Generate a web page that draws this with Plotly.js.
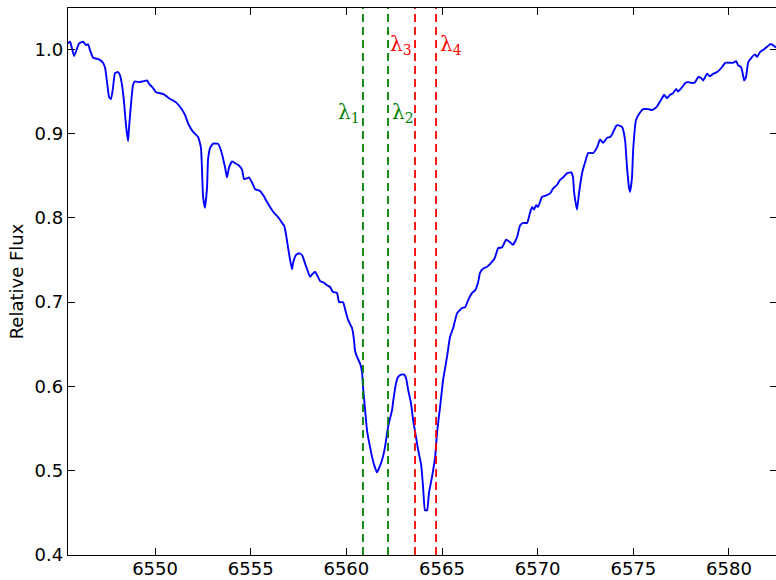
<!DOCTYPE html>
<html><head><meta charset="utf-8">
<script src="https://cdn.plot.ly/plotly-3.0.1.min.js"></script>
<style>html,body{margin:0;padding:0;overflow:hidden;background:#fff}#chart{width:777px;height:580px}</style>
</head><body><div id="chart"></div>
<script>
const wavelength = [6545.45,6545.56,6545.77,6546.03,6546.24,6546.39,6546.50,6546.60,6546.76,6547.07,
6547.28,6547.39,6547.49,6547.60,6547.70,6547.80,6547.91,6548.07,6548.17,6548.27,
6548.38,6548.48,6548.59,6548.64,6548.75,6548.85,6548.95,6549.16,6549.37,6549.58,
6549.69,6549.90,6550.05,6550.42,6550.73,6551.10,6551.36,6551.57,6551.73,6551.99,
6552.25,6552.40,6552.51,6552.61,6552.72,6552.77,6552.88,6553.03,6553.29,6553.45,
6553.55,6553.66,6553.76,6553.87,6554.03,6554.18,6554.34,6554.55,6554.65,6554.81,
6554.91,6555.07,6555.23,6555.49,6555.65,6555.85,6556.01,6556.22,6556.43,6556.64,
6556.74,6556.85,6556.95,6557.06,6557.16,6557.21,6557.37,6557.53,6557.68,6557.84,
6557.95,6558.10,6558.21,6558.36,6558.47,6558.63,6558.83,6558.99,6559.15,6559.30,
6559.51,6559.62,6559.83,6559.93,6560.09,6560.30,6560.40,6560.45,6560.56,6560.72,
6560.82,6560.87,6560.98,6561.08,6561.24,6561.40,6561.60,6561.71,6561.87,6562.02,
6562.18,6562.39,6562.44,6562.60,6562.70,6562.86,6563.02,6563.12,6563.23,6563.38,
6563.49,6563.64,6563.75,6563.91,6564.01,6564.11,6564.22,6564.32,6564.48,6564.64,
6564.74,6564.90,6565.06,6565.26,6565.42,6565.58,6565.79,6566.05,6566.21,6566.36,
6566.57,6566.73,6566.89,6566.99,6567.15,6567.36,6567.62,6567.77,6567.93,6568.14,
6568.35,6568.56,6568.71,6568.92,6569.08,6569.24,6569.45,6569.60,6569.71,6569.81,
6569.92,6570.02,6570.23,6570.39,6570.65,6570.81,6571.01,6571.17,6571.33,6571.54,
6571.75,6571.85,6571.90,6572.01,6572.06,6572.16,6572.32,6572.48,6572.64,6572.90,
6573.11,6573.26,6573.42,6573.63,6573.79,6573.89,6574.10,6574.20,6574.41,6574.57,
6574.67,6574.78,6574.83,6574.93,6574.99,6575.14,6575.35,6575.51,6575.77,6575.98,
6576.14,6576.29,6576.50,6576.61,6576.76,6576.92,6577.08,6577.24,6577.34,6577.55,
6577.71,6577.86,6578.07,6578.23,6578.39,6578.54,6578.65,6578.86,6579.01,6579.17,
6579.38,6579.64,6579.80,6580.06,6580.21,6580.37,6580.48,6580.63,6580.74,6580.79,
6580.89,6581.00,6581.21,6581.36,6581.47,6581.63,6581.84,6581.99,6582.15,6582.31,
6582.46];
const flux = [1.007,1.009,0.992,1.007,1.009,1.005,1.006,0.999,0.990,0.988,
0.984,0.978,0.961,0.943,0.941,0.954,0.972,0.973,0.969,0.958,
0.937,0.910,0.891,0.907,0.937,0.958,0.962,0.961,0.962,0.963,
0.959,0.954,0.949,0.947,0.942,0.937,0.930,0.922,0.912,0.902,
0.896,0.883,0.825,0.812,0.837,0.869,0.883,0.888,0.888,0.880,
0.871,0.860,0.848,0.860,0.867,0.865,0.863,0.857,0.846,0.847,
0.848,0.842,0.834,0.832,0.827,0.819,0.813,0.806,0.801,0.794,
0.791,0.780,0.765,0.750,0.739,0.746,0.756,0.758,0.756,0.746,
0.739,0.730,0.733,0.736,0.732,0.725,0.723,0.720,0.718,0.712,
0.711,0.700,0.700,0.692,0.679,0.669,0.655,0.643,0.635,0.627,
0.617,0.600,0.572,0.548,0.528,0.511,0.498,0.503,0.513,0.528,
0.552,0.572,0.581,0.604,0.611,0.614,0.614,0.610,0.596,0.580,
0.560,0.540,0.525,0.507,0.481,0.453,0.453,0.474,0.493,0.516,
0.545,0.576,0.608,0.635,0.659,0.669,0.687,0.693,0.694,0.702,
0.711,0.714,0.724,0.735,0.740,0.742,0.748,0.753,0.764,0.765,
0.774,0.771,0.768,0.777,0.791,0.794,0.794,0.806,0.813,0.810,
0.815,0.813,0.825,0.826,0.829,0.835,0.839,0.845,0.848,0.853,
0.854,0.848,0.831,0.815,0.810,0.829,0.853,0.866,0.877,0.877,
0.884,0.893,0.889,0.895,0.896,0.899,0.909,0.910,0.908,0.892,
0.860,0.835,0.831,0.848,0.880,0.916,0.925,0.929,0.929,0.928,
0.930,0.934,0.942,0.946,0.942,0.946,0.948,0.953,0.950,0.955,
0.960,0.961,0.960,0.961,0.967,0.966,0.963,0.971,0.968,0.971,
0.973,0.979,0.984,0.984,0.984,0.986,0.981,0.979,0.969,0.963,
0.967,0.984,0.991,0.994,0.991,0.997,1.000,1.003,1.006,1.005,
1.002];
const lineWavelengths = [6560.87, 6562.18, 6563.59, 6564.69];
const lineLabels = ['λ<sub>1</sub>', 'λ<sub>2</sub>', 'λ<sub>3</sub>', 'λ<sub>4</sub>'];
const lineColors = ['#008000', '#008000', '#ff0000', '#ff0000'];
const xTickValues = [6550, 6555, 6560, 6565, 6570, 6575, 6580];
const yTickValues = [0.4, 0.5, 0.6, 0.7, 0.8, 0.9, 1.0];

const labelFlux = [0.924, 0.924, 1.005, 1.005];
const labelSide = ['right', 'left', 'right', 'left'];

const shapes = lineWavelengths.map((w, i) => ({
  type: 'line', xref: 'x', yref: 'paper', x0: w, x1: w, y0: 0, y1: 1,
  line: {color: lineColors[i], width: 1.8, dash: '8px,5px'}
}));
const annotations = lineWavelengths.map((w, i) => ({
  x: w, y: labelFlux[i], xref: 'x', yref: 'y', text: lineLabels[i],
  showarrow: false, xanchor: labelSide[i], yanchor: 'middle',
  xshift: labelSide[i] === 'right' ? -1 : 2,
  font: {family: 'DejaVu Serif', size: 20, color: lineColors[i]}
}));

const trace = {
  x: wavelength, y: flux, type: 'scatter', mode: 'lines',
  line: {color: '#0000ff', width: 1.9, shape: 'spline', smoothing: 0.4}, hoverinfo: 'skip'
};

const layout = {
  width: 777, height: 580,
  margin: {l: 68, r: 0, t: 8, b: 25, pad: 0},
  paper_bgcolor: '#ffffff', plot_bgcolor: '#ffffff',
  showlegend: false,
  font: {family: 'DejaVu Sans', size: 18, color: '#000000'},
  xaxis: {
    range: [6545.45, 6582.51], tickvals: xTickValues, ticktext: xTickValues.map(String),
    ticks: 'inside', ticklen: 7, tickwidth: 1, tickcolor: '#000',
    showline: true, linecolor: '#000', linewidth: 1.2, mirror: 'ticks',
    showgrid: false, zeroline: false, automargin: false, ticklabelstandoff: -3,
    tickfont: {family: 'DejaVu Sans', size: 18, color: '#000'}
  },
  yaxis: {
    range: [0.4, 1.049], tickvals: yTickValues, ticktext: yTickValues.map(v => v.toFixed(1)),
    ticks: 'inside', ticklen: 7, tickwidth: 1, tickcolor: '#000',
    showline: true, linecolor: '#000', linewidth: 1.2, mirror: 'ticks',
    showgrid: false, zeroline: false, automargin: false,
    tickfont: {family: 'DejaVu Sans', size: 18, color: '#000'},
    title: {text: 'Relative Flux', font: {family: 'DejaVu Sans', size: 18, color: '#000'}, standoff: 6}
  },
  shapes: shapes,
  annotations: annotations
};

Plotly.newPlot('chart', [trace], layout, {staticPlot: true, displayModeBar: false});
</script>
</body></html>
